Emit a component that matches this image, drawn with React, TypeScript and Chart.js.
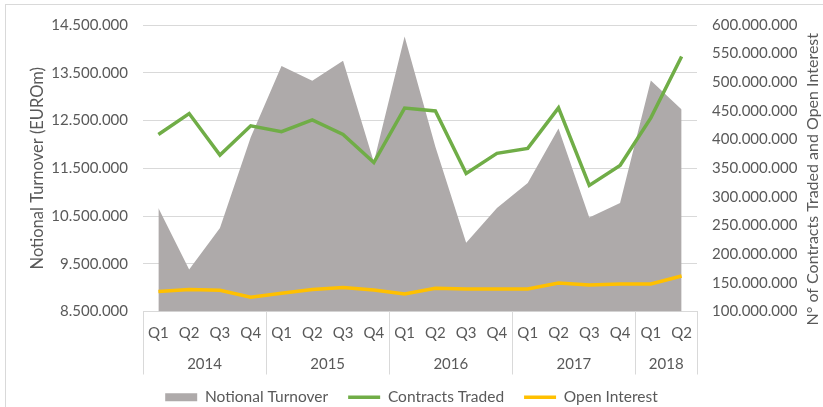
import React, { useEffect, useRef } from "react";
import { Chart, registerables } from "chart.js";

Chart.register(...registerables);

const quarterLabels = ["Q1","Q2","Q3","Q4","Q1","Q2","Q3","Q4","Q1","Q2","Q3","Q4","Q1","Q2","Q3","Q4","Q1","Q2"];
const yearLabels = ["2014","2014","2014","2014","2015","2015","2015","2015","2016","2016","2016","2016","2017","2017","2017","2017","2018","2018"];

const notionalTurnover = [10670000, 9380000, 10250000, 12150000, 13640000, 13330000, 13750000, 11630000, 14260000, 11950000, 9940000, 10670000, 11190000, 12330000, 10470000, 10770000, 13340000, 12730000];
const contractsTraded = [409000000, 445500000, 373000000, 424000000, 413700000, 434500000, 409000000, 360000000, 455000000, 450000000, 341000000, 376000000, 384700000, 455400000, 320000000, 354700000, 438000000, 545000000];
const openInterest = [134700000, 138200000, 137200000, 125000000, 132000000, 138200000, 141700000, 137700000, 130700000, 140600000, 139400000, 139400000, 139400000, 149800000, 146400000, 148100000, 148100000, 162000000];

const leftTitle = "Notional Turnover (EUROm)";
const rightTitle = "N° of Contracts Traded and Open Interest";

const FONT = "Lato";
const TEXT = "#595959";
const GRID = "#D9D9D9";

const fmt = (v: number) => Math.round(v).toString().replace(/\B(?=(\d{3})+(?!\d))/g, ".");

const groupPlugin = {
  id: "groupAxis",
  afterDraw(chart: any) {
    const { ctx, chartArea, scales } = chart;
    const x = scales.x;
    const half = (x.getPixelForValue(1) - x.getPixelForValue(0)) / 2;
    const bottom = chartArea.bottom;
    ctx.save();
    ctx.strokeStyle = GRID;
    ctx.lineWidth = 1;
    const groups: { label: string; start: number; end: number }[] = [];
    yearLabels.forEach((y, i) => {
      if (i === 0 || yearLabels[i - 1] !== y) groups.push({ label: y, start: i, end: i });
      else groups[groups.length - 1].end = i;
    });
    const drawV = (px: number) => {
      const xx = Math.round(px) + 0.5;
      ctx.beginPath();
      ctx.moveTo(xx, bottom);
      ctx.lineTo(xx, bottom + 63);
      ctx.stroke();
    };
    groups.forEach((g) => drawV(x.getPixelForValue(g.start) - half));
    drawV(x.getPixelForValue(groups[groups.length - 1].end) + half);
    ctx.fillStyle = TEXT;
    ctx.font = `15px ${FONT}`;
    ctx.textAlign = "center";
    ctx.textBaseline = "middle";
    groups.forEach((g) => {
      const cx = (x.getPixelForValue(g.start) + x.getPixelForValue(g.end)) / 2;
      ctx.fillText(g.label, cx, bottom + 53);
    });
    // right axis title, reading bottom to top
    const yr = scales.yRight;
    ctx.font = `16px ${FONT}`;
    ctx.translate(yr.right - 10, (chartArea.top + bottom) / 2 + 11);
    ctx.rotate(-Math.PI / 2);
    ctx.fillText(rightTitle, 0, 0);
    ctx.restore();
  },
};

export default function App() {
  const ref = useRef<HTMLCanvasElement>(null);
  useEffect(() => {
    if (!ref.current) return;
    const chart = new Chart(ref.current, {
      type: "line",
      data: {
        labels: quarterLabels,
        datasets: [
          {
            label: "Notional Turnover",
            data: notionalTurnover,
            yAxisID: "yLeft",
            backgroundColor: "#AEAAAA",
            borderColor: "#AEAAAA",
            borderWidth: 0,
            fill: "start",
            pointRadius: 0,
            tension: 0,
            order: 3,
            pointStyle: "rect",
          },
          {
            label: "Contracts Traded",
            data: contractsTraded,
            yAxisID: "yRight",
            borderColor: "#70AD47",
            backgroundColor: "#70AD47",
            borderWidth: 3.5,
            fill: false,
            pointRadius: 0,
            tension: 0,
            order: 1,
            pointStyle: "line",
          },
          {
            label: "Open Interest",
            data: openInterest,
            yAxisID: "yRight",
            borderColor: "#FFC000",
            backgroundColor: "#FFC000",
            borderWidth: 3.5,
            fill: false,
            pointRadius: 0,
            tension: 0,
            order: 2,
            pointStyle: "line",
          },
        ],
      },
      options: {
        animation: false,
        responsive: false,
        maintainAspectRatio: false,
        layout: { padding: { top: 25, left: 0, right: 0, bottom: -8 } },
        plugins: {
          tooltip: { enabled: false },
          legend: {
            position: "bottom",
            labels: {
              usePointStyle: true,
              pointStyleWidth: 32,
              boxHeight: 8,
              padding: 20,
              color: TEXT,
              font: { family: FONT, size: 15.5 },
              sort: (a: any, b: any) => a.datasetIndex - b.datasetIndex,
            },
          },
        },
        scales: {
          x: {
            offset: true,
            grid: { display: false, drawTicks: false },
            border: { display: true, color: GRID },
            ticks: { color: TEXT, font: { family: FONT, size: 15 }, padding: 13, maxRotation: 0, autoSkip: false },
            afterFit: (s: any) => { s.height = 58; },
          },
          yLeft: {
            position: "left",
            min: 8500000,
            max: 14500000,
            ticks: { stepSize: 1000000, color: TEXT, font: { family: FONT, size: 15 }, padding: 15, callback: (v: any) => fmt(Number(v)) },
            grid: { color: GRID, drawTicks: false },
            border: { display: false },
            title: { display: true, text: leftTitle, color: TEXT, font: { family: FONT, size: 16.5 }, padding: { top: 28, bottom: 0 } },
            afterFit: (s: any) => { s.width = 143; },
          },
          yRight: {
            position: "right",
            min: 100000000,
            max: 600000000,
            ticks: { stepSize: 50000000, color: TEXT, font: { family: FONT, size: 15 }, padding: 15, callback: (v: any) => fmt(Number(v)) },
            grid: { display: false, drawTicks: false },
            border: { display: false },
            afterFit: (s: any) => { s.width = 126; },
          },
        },
      },
      plugins: [groupPlugin],
    } as any);
    return () => chart.destroy();
  }, []);
  return (
    <div style={{ position: "absolute", left: 0, top: 0, width: 823, height: 407, background: "#fff", overflow: "hidden" }}>
      <div style={{ position: "absolute", left: 5, top: 4, width: 840, height: 430, border: "1px solid #D9D9D9", boxSizing: "border-box" }} />
      <canvas ref={ref} width={823} height={407} style={{ position: "absolute", left: 0, top: 0, width: 823, height: 407 }} />
    </div>
  );
}
